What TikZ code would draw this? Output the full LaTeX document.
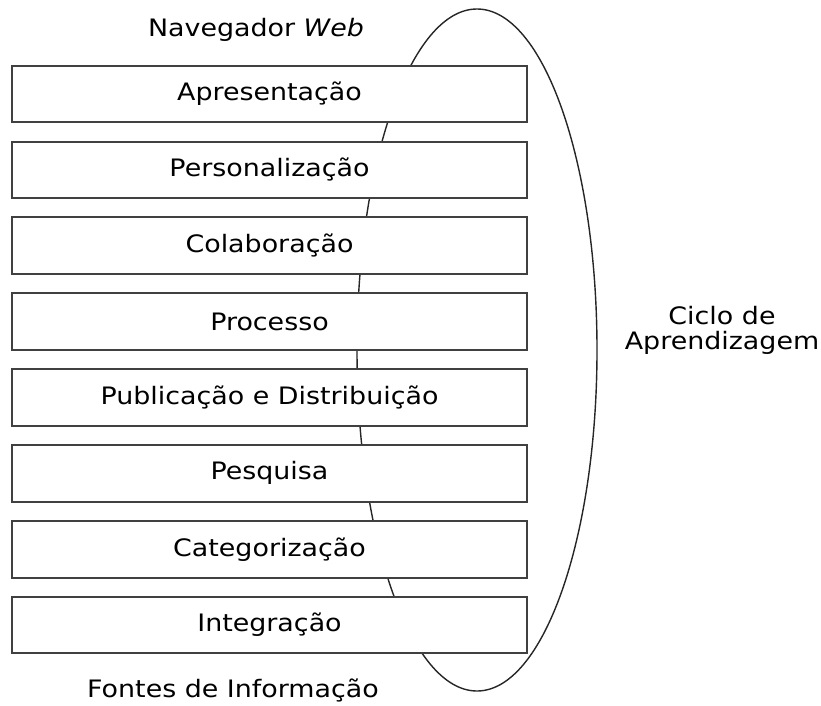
\documentclass[tikz,border=0pt]{standalone}
\usepackage{fontspec}
\setmainfont[FakeStretch=1.12]{DejaVu Sans}
\usetikzlibrary{matrix,positioning}

\begin{document}
\begin{tikzpicture}[x=1pt,y=-1pt]
  \useasboundingbox (0,0) rectangle (821,706);
  \draw[line width=1.4pt, black!85] (477,350) ellipse [x radius=120pt, y radius=341pt];
  \matrix (m) at (269.5,359.5) [matrix of nodes, row sep=17.4pt,
    nodes={draw=black!75, fill=white, line width=2pt, minimum width=514pt, minimum height=56.5pt,
      font=\fontsize{24}{28}\selectfont}]
  {
  Apresentação \\
  Personalização \\
  Colaboração \\
  Processo \\
  Publicação e Distribuição \\
  Pesquisa \\
  Categorização \\
  Integração \\
  };
  \node[font=\fontsize{24}{28}\selectfont] (web) at (256,30) {Navegador \textit{Web}};
  \node[font=\fontsize{24}{28}\selectfont] (fontes) at (233,690) {Fontes de Informação};
  \node[font=\fontsize{24}{25}\selectfont, align=center] (ciclo) at (722,330) {Ciclo de\\Aprendizagem};
\end{tikzpicture}
\end{document}
